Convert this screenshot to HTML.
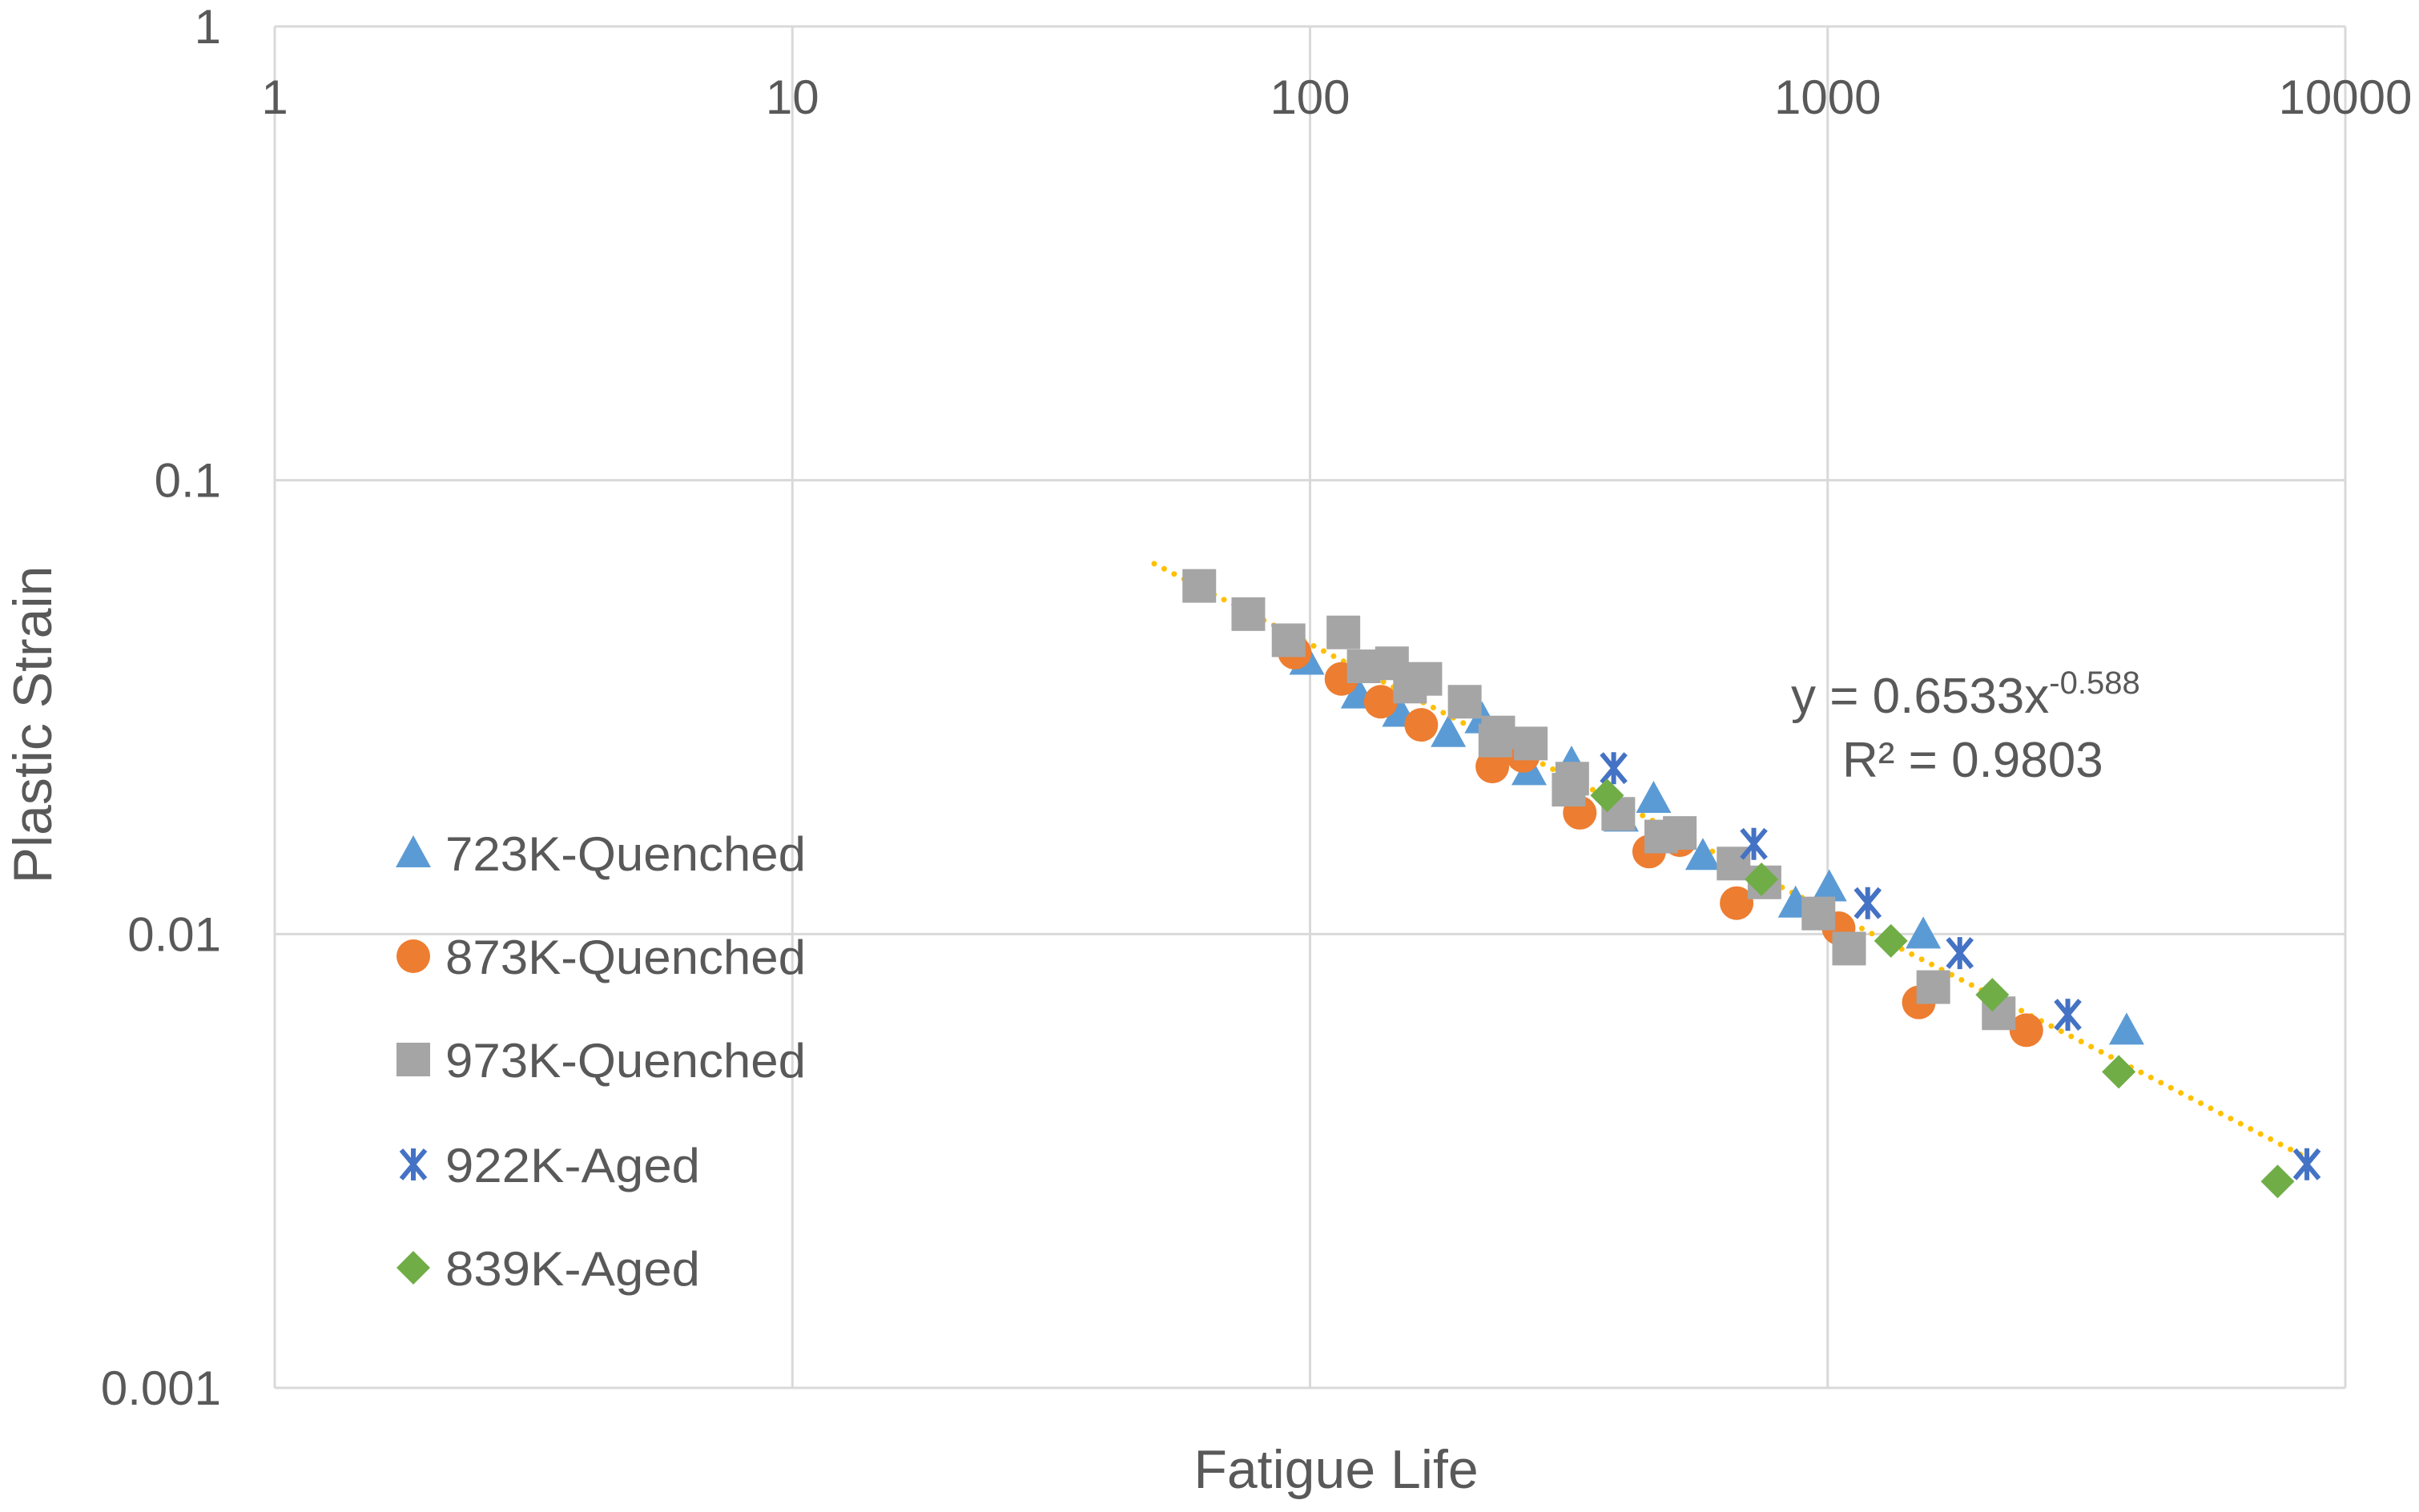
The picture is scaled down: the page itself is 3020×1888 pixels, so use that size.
<!DOCTYPE html>
<html><head><meta charset="utf-8"><style>
html,body{margin:0;padding:0;background:#fff;}
svg{display:block;font-family:"Liberation Sans",sans-serif;}
</style></head><body>
<svg id="chart" width="3020" height="1888" viewBox="0 0 3020 1888" xmlns="http://www.w3.org/2000/svg">
<rect width="3020" height="1888" fill="#fff"/>
<g id="grid"></g>
<g id="ticks" fill="#595959" font-size="60"></g>
<g id="trend"></g>
<g id="marks"></g>
<text x="2236" y="890" font-size="62" fill="#595959">y = 0.6533x<tspan dy="-24" font-size="40">-0.588</tspan></text>
<text x="2300" y="970" font-size="62" fill="#595959">R² = 0.9803</text>
<text x="1668" y="1858" text-anchor="middle" font-size="68" fill="#595959">Fatigue Life</text>
<text transform="translate(64,905) rotate(-90)" text-anchor="middle" font-size="68" fill="#595959">Plastic Strain</text>
<g id="legend" font-size="60" fill="#595959"></g>
</svg>
<script>
const xTicks=[1,10,100,1000,10000];
const yTicks=[1,0.1,0.01,0.001];
const xTickLabels=["1","10","100","1000","10000"];
const yTickLabels=["1","0.1","0.01","0.001"];
const seriesNames=["723K-Quenched","873K-Quenched","973K-Quenched","922K-Aged","839K-Aged"];
const q723x=[98.6,124,149,185,215,265,320,399,461,574,867,1007,1530,3780];
const q723y=[0.0401,0.0338,0.0308,0.0278,0.0298,0.0229,0.0238,0.0181,0.0199,0.0149,0.0117,0.0127,0.0100,0.00614];
const q873x=[93.4,115,137,164,225,258,332,452,518,667,1050,1500,2420];
const q873y=[0.0417,0.0365,0.0325,0.0289,0.0234,0.0247,0.0185,0.0152,0.0161,0.0117,0.0103,0.00707,0.00614];
const q973x=[61.1,76,90.9,116,127,144,156,167,199,228,231,267,316,321,394,477,518,658,755,960,1100,1600,2140];
const q973y=[0.0585,0.0507,0.0444,0.0462,0.0389,0.0395,0.0351,0.0365,0.0325,0.0267,0.0278,0.0263,0.0208,0.0220,0.0184,0.0164,0.0167,0.0143,0.0130,0.0111,0.00929,0.00764,0.00669];
const a922x=[386,720,1195,1800,2910,8430];
const a922y=[0.0232,0.0158,0.0117,0.00908,0.00664,0.00311];
const a839x=[375,745,1325,2080,3650,7400];
const a839y=[0.0202,0.0132,0.00966,0.00735,0.00497,0.00285];
const trendCoef=0.6533, trendExp=-0.588, trendRange=[50,8500];

const L=343,R=2928,T=33,B=1733;
const NS="http://www.w3.org/2000/svg";
function sx(v){return L+(Math.log10(v)-0)/4*(R-L);}
function sy(v){return T+(0-Math.log10(v))/3*(B-T);}
function mk(tag,attrs,parent){const e=document.createElementNS(NS,tag);for(const k in attrs)e.setAttribute(k,attrs[k]);parent.appendChild(e);return e;}
const grid=document.getElementById('grid'),ticks=document.getElementById('ticks'),marks=document.getElementById('marks'),legend=document.getElementById('legend'),trend=document.getElementById('trend');
xTicks.forEach((t,i)=>{
  const ln=mk('line',{x1:sx(t),x2:sx(t),y1:T,y2:B,stroke:'#d9d9d9','stroke-width':3},grid);
  
  
  const tx=mk('text',{x:sx(t),y:142,'text-anchor':'middle'},ticks);
  tx.textContent=xTickLabels[i];
  
  
});
yTicks.forEach((t,i)=>{
  const ln=mk('line',{x1:L,x2:R,y1:sy(t),y2:sy(t),stroke:'#d9d9d9','stroke-width':3},grid);
  
  
  const tx=mk('text',{x:276,y:sy(t)+21,'text-anchor':'end'},ticks);
  tx.textContent=yTickLabels[i];
  
  
});
(function(){
  const n=60,pts=[];
  const a=Math.log10(trendRange[0]),b=Math.log10(trendRange[1]);
  for(let i=0;i<=n;i++){const x=Math.pow(10,a+(b-a)*i/n);pts.push(sx(x)+','+sy(trendCoef*Math.pow(x,trendExp)));}
  const p=mk('polyline',{points:pts.join(' '),fill:'none',stroke:'#FFC000','stroke-width':7,'stroke-dasharray':'0 14','stroke-linecap':'round'},trend);
  
  
})();
function drawMarker(kind,cx,cy,parent){
  let e;
  if(kind===0){e=mk('polygon',{points:`${cx},${cy-22} ${cx+22},${cy+18} ${cx-22},${cy+18}`,fill:'#5B9BD5'},parent);}
  else if(kind===1){e=mk('circle',{cx:cx,cy:cy,r:21,fill:'#ED7D31'},parent);}
  else if(kind===2){e=mk('rect',{x:cx-21,y:cy-21,width:42,height:42,fill:'#A5A5A5'},parent);}
  else if(kind===3){e=mk('path',{d:`M${cx-15},${cy-18}L${cx+15},${cy+18}M${cx+15},${cy-18}L${cx-15},${cy+18}M${cx},${cy-20}L${cx},${cy+20}`,stroke:'#4472C4','stroke-width':6,fill:'none'},parent);}
  else {e=mk('polygon',{points:`${cx},${cy-21} ${cx+21},${cy} ${cx},${cy+21} ${cx-21},${cy}`,fill:'#70AD47'},parent);}
  return e;
}
const allX=[q723x,q873x,q973x,a922x,a839x],allY=[q723y,q873y,q973y,a922y,a839y];
const ptNames=['point-723k-quenched','point-873k-quenched','point-973k-quenched','point-922k-aged','point-839k-aged'];
[0,1,2,3,4].forEach(s=>{
  allX[s].forEach((x,i)=>{
    const e=drawMarker(s,sx(x),sy(allY[s][i]),marks);
    
    
  });
});
const legY=[1065,1194,1323,1454,1583];
seriesNames.forEach((n,i)=>{
  const m=drawMarker(i,516,legY[i],legend);
  
  
  const t=mk('text',{x:556,y:legY[i]+22,textLength:n.length>10?450:318,lengthAdjust:'spacingAndGlyphs'},legend);
  t.textContent=n;
  
  
});
</script>
</body></html>
